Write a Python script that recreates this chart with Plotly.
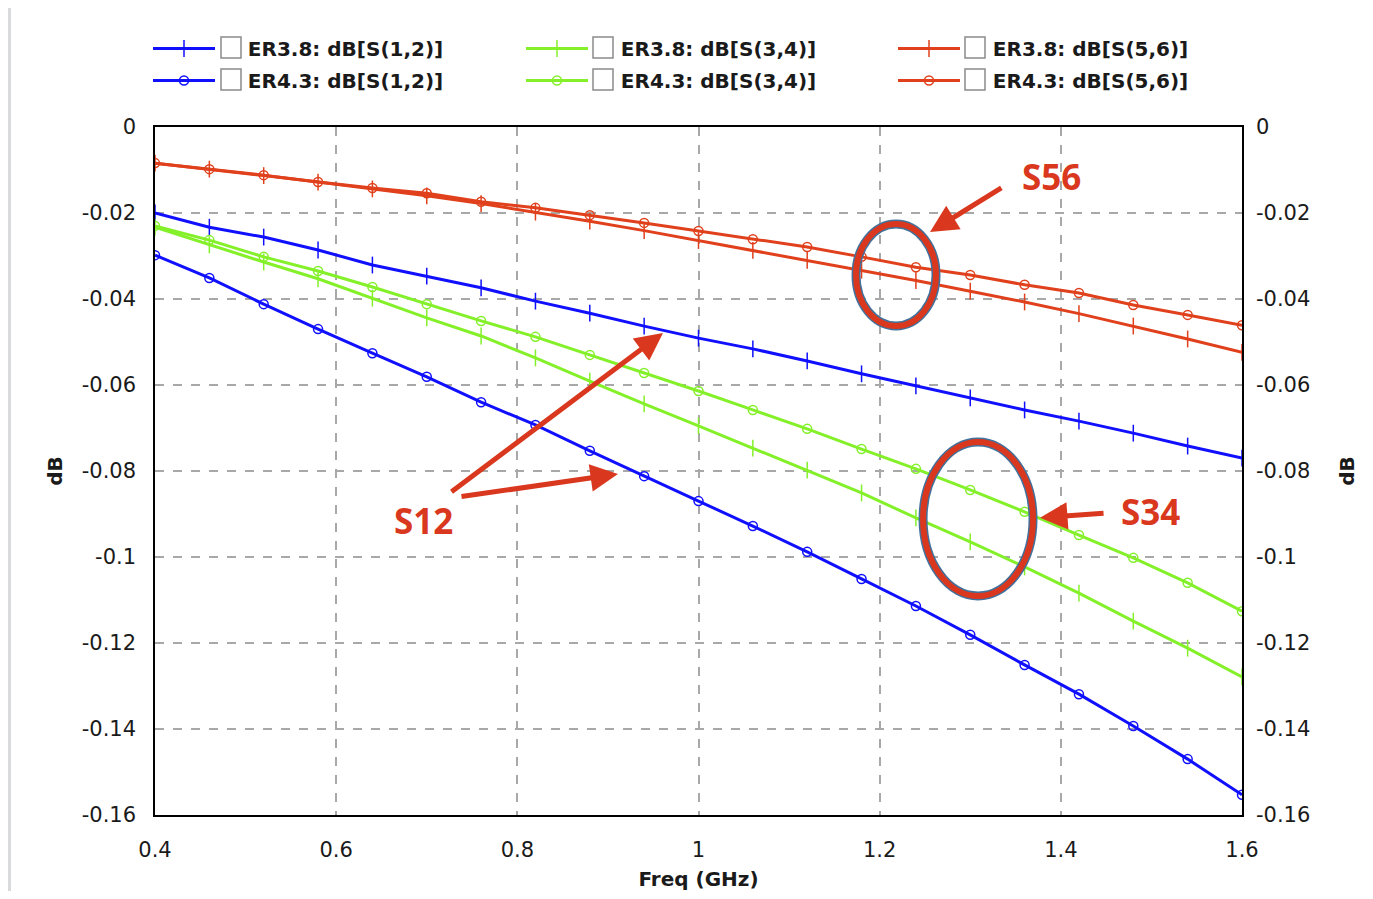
import plotly.graph_objects as go

freq = [0.4, 0.46, 0.52, 0.58, 0.64, 0.7, 0.76, 0.82, 0.88, 0.94, 1.0,
        1.06, 1.12, 1.18, 1.24, 1.3, 1.36, 1.42, 1.48, 1.54, 1.6]

s12_er38 = [-0.0200, -0.0233, -0.0256, -0.0286, -0.0321, -0.0347, -0.0374, -0.0405, -0.0433, -0.0463, -0.0491,
            -0.0516, -0.0544, -0.0574, -0.0602, -0.0630, -0.0658, -0.0684, -0.0712, -0.0742, -0.0770]
s12_er43 = [-0.0298, -0.0351, -0.0412, -0.0470, -0.0526, -0.0581, -0.0640, -0.0693, -0.0753, -0.0812, -0.0870,
            -0.0928, -0.0988, -0.1051, -0.1114, -0.1181, -0.1251, -0.1319, -0.1393, -0.1470, -0.1553]
s34_er38 = [-0.0233, -0.0274, -0.0314, -0.0353, -0.0398, -0.0444, -0.0486, -0.0537, -0.0591, -0.0644, -0.0695,
            -0.0747, -0.0798, -0.0851, -0.0909, -0.0965, -0.1023, -0.1084, -0.1149, -0.1212, -0.1279]
s34_er43 = [-0.0230, -0.0263, -0.0302, -0.0335, -0.0372, -0.0412, -0.0451, -0.0488, -0.0530, -0.0572, -0.0614,
            -0.0658, -0.0702, -0.0749, -0.0795, -0.0844, -0.0895, -0.0949, -0.1002, -0.1060, -0.1126]
s56_er38 = [-0.0084, -0.0098, -0.0113, -0.0128, -0.0144, -0.0160, -0.0178, -0.0198, -0.0219, -0.0241, -0.0264,
            -0.0287, -0.0310, -0.0333, -0.0357, -0.0382, -0.0407, -0.0434, -0.0463, -0.0493, -0.0524]
s56_er43 = [-0.0084, -0.0098, -0.0112, -0.0128, -0.0142, -0.0154, -0.0174, -0.0188, -0.0205, -0.0223, -0.0242,
            -0.0261, -0.0279, -0.0302, -0.0326, -0.0344, -0.0367, -0.0386, -0.0414, -0.0437, -0.0461]

x_ticks = [0.4, 0.6, 0.8, 1.0, 1.2, 1.4, 1.6]
x_tick_labels = ["0.4", "0.6", "0.8", "1", "1.2", "1.4", "1.6"]
y_ticks = [0, -0.02, -0.04, -0.06, -0.08, -0.1, -0.12, -0.14, -0.16]
y_tick_labels = ["0", "-0.02", "-0.04", "-0.06", "-0.08", "-0.1", "-0.12", "-0.14", "-0.16"]

BLUE = "#1010ff"
GREEN = "#84f02a"
RED = "#e0401c"
ANN = "#d9381e"

series = [
    ("ER3.8: dB[S(1,2)]", s12_er38, BLUE, "line-ns-open", "legend"),
    ("ER4.3: dB[S(1,2)]", s12_er43, BLUE, "circle-open", "legend"),
    ("ER3.8: dB[S(3,4)]", s34_er38, GREEN, "line-ns-open", "legend2"),
    ("ER4.3: dB[S(3,4)]", s34_er43, GREEN, "circle-open", "legend2"),
    ("ER3.8: dB[S(5,6)]", s56_er38, RED, "line-ns-open", "legend3"),
    ("ER4.3: dB[S(5,6)]", s56_er43, RED, "circle-open", "legend3"),
]

fig = go.Figure()
for name, vals, col, sym, lg in series:
    fig.add_trace(go.Scatter(
        x=freq, y=vals, mode="lines+markers", name="\u00a0\u00a0\u00a0\u00a0" + name,
        line=dict(color=col, width=3),
        marker=dict(symbol=sym, size=9 if sym == "circle-open" else 12,
                    color=col, line=dict(color=col, width=1.5)),
        legend=lg, legendgroup=name,
    ))
# right axis twin (invisible trace)
fig.add_trace(go.Scatter(x=[freq[0]], y=[s56_er38[0]], yaxis="y2", mode="markers",
                         marker=dict(opacity=0), showlegend=False, hoverinfo="skip"))

TICKFONT = dict(family="DejaVu Sans", size=21, color="#1a1a1a")
TITLEFONT = dict(family="DejaVu Sans", size=20, color="#1a1a1a", weight="bold")
LEGFONT = dict(family="DejaVu Sans", size=20, color="#1a1a1a", weight="bold")

# the page body adds an 8px offset; figure coords = page coords - 8
OFF = 8
W, H = 1373 - 2 * OFF, 899 - 2 * OFF
L, R, T, B = 155 - OFF, W - (1242 - OFF), 127 - OFF, H - (815 - OFF)
pw, ph = W - L - R, H - T - B


def px(page_x):
    return (page_x - OFF - L) / pw


def py(page_y):
    return (H - B - (page_y - OFF)) / ph


leg_common = dict(orientation="v", font=LEGFONT, bgcolor="rgba(0,0,0,0)",
                  itemwidth=62, yanchor="top", xanchor="left", tracegroupgap=3,
                  itemclick=False)
yleg = py(29)

fig.update_layout(
    width=W, height=H,
    margin=dict(l=L, r=R, t=T, b=B, autoexpand=False),
    paper_bgcolor="white", plot_bgcolor="white",
    xaxis=dict(range=[0.4, 1.6], tickvals=x_ticks, ticktext=x_tick_labels,
               showgrid=True, gridcolor="#a8a8a8", griddash="dash", gridwidth=1.5,
               showline=True, linecolor="black", linewidth=1.5, mirror=True, automargin=False,
               zeroline=False, tickfont=TICKFONT, ticks="", ticklen=0, ticklabelstandoff=15,
               title=dict(text="Freq (GHz)", font=TITLEFONT, standoff=12)),
    yaxis=dict(range=[-0.16, 0], tickvals=y_ticks, ticktext=y_tick_labels,
               showgrid=True, gridcolor="#a8a8a8", griddash="dash", gridwidth=1.5,
               showline=True, linecolor="black", linewidth=1.5, mirror=True, automargin=False,
               zeroline=False, tickfont=TICKFONT, ticks="", ticklen=0, ticklabelstandoff=13,
               title=dict(text="dB", font=TITLEFONT, standoff=14)),
    yaxis2=dict(range=[-0.16, 0], tickvals=y_ticks, ticktext=y_tick_labels,
                overlaying="y", side="right", showgrid=False, zeroline=False, automargin=False,
                showline=False, tickfont=TICKFONT, ticks="", ticklabelstandoff=13,
                title=dict(text="dB", font=TITLEFONT, standoff=30)),
    legend=dict(x=px(148), y=yleg, **leg_common),
    legend2=dict(x=px(521), y=yleg, **leg_common),
    legend3=dict(x=px(893), y=yleg, **leg_common),
    showlegend=True,
)

# grey edge of the slide screenshot
fig.add_shape(type="rect", xref="paper", yref="paper", x0=px(OFF), x1=px(OFF + 3), y0=py(899), y1=py(0),
              fillcolor="#d8dadb", line_width=0, layer="below")

# legend checkboxes
for cx in (221, 593, 965):
    for cy in (37, 69):
        fig.add_shape(type="rect", xref="paper", yref="paper",
                      x0=px(cx), x1=px(cx + 20), y0=py(cy + 21), y1=py(cy),
                      fillcolor="white", line=dict(color="#8a8a8a", width=1.5))

# ellipses
for (x0, x1, y0, y1) in [(1.1739, 1.2622, -0.02256, -0.04628),
                         (1.2479, 1.3693, -0.07326, -0.10907)]:
    fig.add_shape(type="circle", xref="x", yref="y", x0=x0, x1=x1, y0=y0, y1=y1,
                  line=dict(color="#41719c", width=9))
    fig.add_shape(type="circle", xref="x", yref="y", x0=x0, x1=x1, y0=y0, y1=y1,
                  line=dict(color=ANN, width=6))

ANNFONT = dict(family="Open Sans", size=35, color=ANN, weight="bold")
for txt, tx, ty in [("S56", 1.390, -0.0116), ("S34", 1.4985, -0.0895), ("S12", 0.696, -0.0914)]:
    fig.add_annotation(x=tx, y=ty, xref="x", yref="y", text=txt, showarrow=False, font=ANNFONT)

for (tx, ty, hx, hy) in [(1.336, -0.01395, 1.2556, -0.02442),
                         (1.4488, -0.0898, 1.377, -0.0909),
                         (0.7257, -0.0851, 0.9608, -0.0479),
                         (0.7367, -0.0860, 0.9111, -0.0807)]:
    fig.add_annotation(x=hx, y=hy, ax=tx, ay=ty, xref="x", yref="y", axref="x", ayref="y",
                       text="", showarrow=True, arrowhead=2, arrowsize=1.1, arrowwidth=5,
                       arrowcolor=ANN)

fig.write_html("out.html")
